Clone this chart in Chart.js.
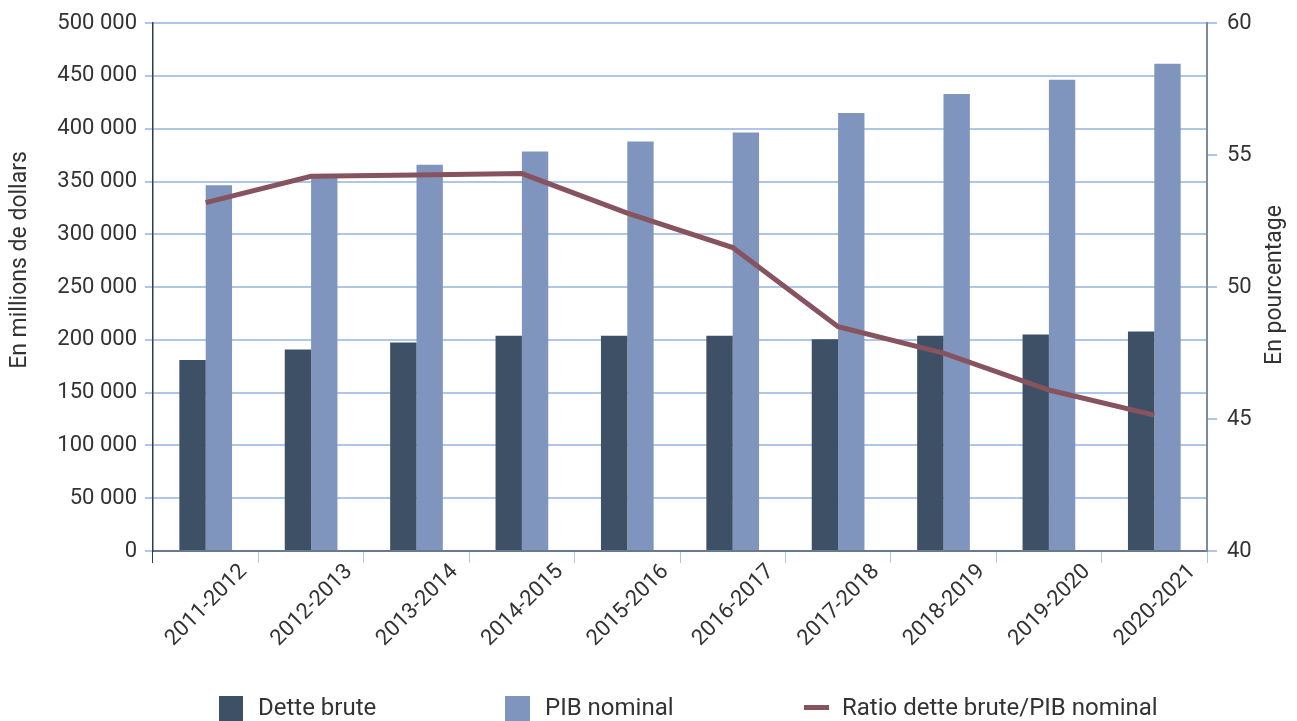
<!DOCTYPE html>
<html>
<head>
<meta charset="utf-8">
<script src="https://cdn.jsdelivr.net/npm/chart.js@4"></script>
<style>
  html, body { margin: 0; padding: 0; background: #fff; overflow: hidden; }
  #wrap { position: relative; width: 1297px; height: 721px; }
  .lg { position: absolute; font: 24px Roboto, sans-serif; color: #333; line-height: 24px; white-space: nowrap; }
  .sw { position: absolute; }
</style>
</head>
<body>
<div id="wrap">
  <canvas id="chart" width="1297" height="721"></canvas>
  <div class="sw" style="left:219px;top:696px;width:24px;height:26px;background:#3e5066"></div>
  <div class="lg" style="left:258px;top:695px">Dette brute</div>
  <div class="sw" style="left:505px;top:696px;width:25px;height:26px;background:#7f95bd"></div>
  <div class="lg" style="left:545px;top:695px">PIB nominal</div>
  <div class="sw" style="left:804px;top:705px;width:25px;height:5px;background:#87535f"></div>
  <div class="lg" style="left:842px;top:695px">Ratio dette brute/PIB nominal</div>
</div>
<script>
const categories = ['2011-2012', '2012-2013', '2013-2014', '2014-2015', '2015-2016',
  '2016-2017', '2017-2018', '2018-2019', '2019-2020', '2020-2021'];
const detteBrute = [181000, 191000, 197500, 204000, 204000, 204000, 200500, 204000, 205000, 208000];
const pibNominal = [346500, 356000, 366000, 378500, 388000, 396500, 415000, 433000, 446500, 461500];
const ratio = [53.2, 54.2, 54.25, 54.3, 52.8, 51.5, 48.5, 47.5, 46.1, 45.15];

const gridBlue = '#aec6e9';
const textColor = '#333333';
const tickFont = { family: 'Roboto', size: 22 };

const fmt = v => String(v).replace(/\B(?=(\d{3})+(?!\d))/g, ' ');

// both axis titles read bottom-to-top, so draw them here
const axisTitles = {
  id: 'axisTitles',
  afterDraw(chart) {
    const c = chart.ctx;
    c.save();
    c.fillStyle = textColor;
    c.font = '23px Roboto';
    c.textAlign = 'center';
    c.textBaseline = 'middle';
    c.translate(20, 260);
    c.rotate(-Math.PI / 2);
    c.fillText('En millions de dollars', 0, 0);
    c.restore();
    c.save();
    c.fillStyle = textColor;
    c.font = '23px Roboto';
    c.textAlign = 'center';
    c.textBaseline = 'middle';
    c.translate(1275, 285);
    c.rotate(-Math.PI / 2);
    c.fillText('En pourcentage', 0, 0);
    c.restore();
  },
};

new Chart(document.getElementById('chart').getContext('2d'), {
  data: {
    labels: categories,
    datasets: [
      {
        type: 'line',
        label: 'Ratio dette brute/PIB nominal',
        data: ratio,
        yAxisID: 'y1',
        borderColor: '#87535f',
        borderWidth: 5,
        pointRadius: 0,
        tension: 0,
        order: 0,
      },
      {
        type: 'bar',
        label: 'Dette brute',
        data: detteBrute,
        yAxisID: 'y',
        backgroundColor: '#3e5066',
        categoryPercentage: 0.5,
        barPercentage: 1.0,
        order: 1,
      },
      {
        type: 'bar',
        label: 'PIB nominal',
        data: pibNominal,
        yAxisID: 'y',
        backgroundColor: '#7f95bd',
        categoryPercentage: 0.5,
        barPercentage: 1.0,
        order: 1,
      },
    ],
  },
  options: {
    responsive: false,
    animation: false,
    layout: { padding: { top: 20, left: 0, right: 0, bottom: 0 } },
    plugins: {
      legend: { display: false },
      tooltip: { enabled: false },
    },
    scales: {
      x: {
        offset: true,
        grid: {
          offset: true,
          drawOnChartArea: false,
          tickLength: 12,
          color: ctx => (ctx.index === 0 ? '#2f3b4a' : gridBlue),
        },
        border: { color: '#6a7a8e', width: 2 },
        ticks: {
          autoSkip: false,
          minRotation: 45,
          maxRotation: 45,
          labelOffset: 38,
          padding: -4,
          color: textColor,
          font: tickFont,
        },
        afterFit: s => { s.height = 170; },
      },
      y: {
        position: 'left',
        min: 0,
        max: 500000,
        ticks: {
          stepSize: 50000,
          padding: 8,
          color: textColor,
          font: tickFont,
          callback: v => fmt(v),
        },
        grid: { color: gridBlue, lineWidth: 2, tickLength: 8 },
        border: { color: '#2f3b4a', width: 1.5 },
        afterFit: s => { s.width = 153; },
      },
      y1: {
        position: 'right',
        min: 40,
        max: 60,
        ticks: {
          stepSize: 5,
          padding: 10,
          color: textColor,
          font: tickFont,
        },
        grid: { drawOnChartArea: false, color: gridBlue, lineWidth: 2, tickLength: 10 },
        border: { color: '#7e8a98', width: 2 },
        afterFit: s => { s.width = 90; },
      },
    },
  },
  plugins: [axisTitles],
});
</script>
</body>
</html>
